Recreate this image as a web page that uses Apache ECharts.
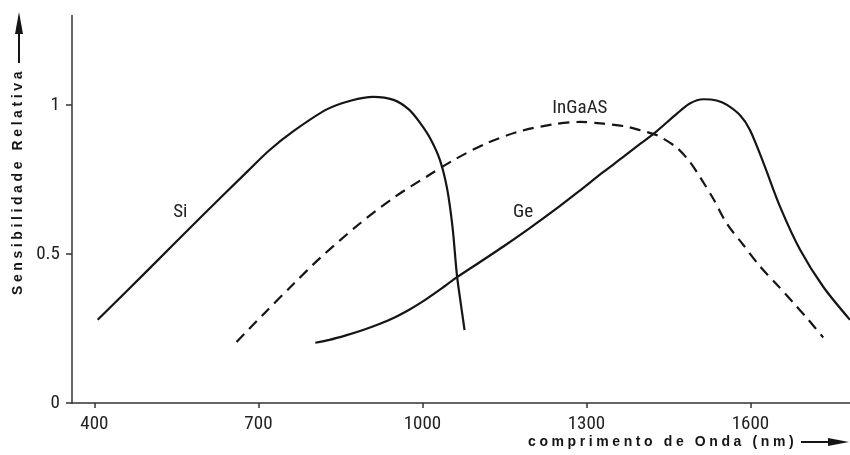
<!DOCTYPE html>
<html>
<head>
<meta charset="utf-8">
<script src="https://cdn.jsdelivr.net/npm/echarts@6/dist/echarts.min.js"></script>
<style>
html,body{margin:0;padding:0;background:#fff;}
#chart{width:850px;height:455px;}
</style>
</head>
<body>
<div id="chart"></div>
<script>
// ---- data (wavelength nm, relative sensitivity) ----
const siNm   = [406, 500, 600, 680, 720, 764, 825, 870, 910, 947, 975, 996, 1015, 1032, 1045, 1055, 1063, 1070, 1077];
const siVal  = [0.279, 0.45, 0.633, 0.777, 0.848, 0.912, 0.985, 1.015, 1.027, 1.017, 0.985, 0.939, 0.885, 0.815, 0.72, 0.59, 0.43, 0.335, 0.245];

const geNm   = [804, 830, 860, 890, 920, 950, 975, 1000, 1030, 1064, 1106, 1148, 1195, 1240, 1286, 1331, 1365, 1398, 1426, 1465, 1489, 1514, 1538, 1557, 1581, 1599, 1624, 1654, 1691, 1733, 1782];
const geVal  = [0.202, 0.212, 0.227, 0.244, 0.264, 0.288, 0.312, 0.34, 0.378, 0.423, 0.474, 0.525, 0.585, 0.645, 0.71, 0.775, 0.822, 0.869, 0.908, 0.970, 1.005, 1.019, 1.015, 1.0, 0.965, 0.916, 0.804, 0.659, 0.513, 0.39, 0.279];

const inNm   = [660, 712, 764, 813, 886, 950, 1008, 1060, 1118, 1179, 1240, 1288, 1331, 1371, 1398, 1429, 1465, 1489, 1508, 1532, 1557, 1587, 1618, 1649, 1679, 1706, 1733];
const inVal  = [0.205, 0.303, 0.399, 0.487, 0.603, 0.692, 0.760, 0.818, 0.872, 0.912, 0.935, 0.943, 0.937, 0.928, 0.915, 0.898, 0.857, 0.809, 0.757, 0.685, 0.601, 0.53, 0.457, 0.396, 0.335, 0.279, 0.220];

const xTicks = [400, 700, 1000, 1300, 1600];
const yTicks = [0, 0.5, 1];

const seriesNames = ['Si', 'Ge', 'InGaAS'];
const labelAnchors = [[557, 0.64], [1184, 0.64], [1288, 0.99]];

const xTitle = 'comprimento de Onda (nm)';
const yTitle = 'Sensibilidade Relativa';

// letter-spaced titles (canvas letterSpacing, only for the two axis titles)
const SPACED = new Set([xTitle, yTitle]);
const origFill = CanvasRenderingContext2D.prototype.fillText;
CanvasRenderingContext2D.prototype.fillText = function (t, x, y, m) {
  if (SPACED.has(t)) {
    this.save();
    this.letterSpacing = '3.6px';
    origFill.call(this, t, x, y);
    this.restore();
    const f = this.font; this.font = '10px serif'; this.font = f;
  } else {
    if (m === undefined) origFill.call(this, t, x, y); else origFill.call(this, t, x, y, m);
  }
};

const pairs = (xs, ys) => xs.map((x, i) => [x, ys[i]]);
const narrow = "'Liberation Sans Narrow', 'Arial Narrow', 'Roboto Condensed', 'DejaVu Sans Condensed', sans-serif";
const INK = '#151515';

function mkSeries(name, xs, ys, dashed, anchor) {
  return {
    name: name,
    type: 'line',
    data: pairs(xs, ys),
    smooth: 0.3,
    showSymbol: false,
    symbol: 'none',
    lineStyle: { color: INK, width: 2.2, type: dashed ? [11, 7] : 'solid' },
    markPoint: {
      symbol: 'circle', symbolSize: 1,
      itemStyle: { color: 'rgba(0,0,0,0)' },
      label: { show: true, position: 'inside', formatter: name, color: '#222', fontSize: 19, fontFamily: narrow },
      data: [{ coord: anchor }]
    }
  };
}

const chart = echarts.init(document.getElementById('chart'), null, { renderer: 'canvas' });
chart.setOption({
  animation: false,
  backgroundColor: '#fff',
  grid: { left: 72, right: 0, top: 15.5, bottom: 52, containLabel: false },
  xAxis: {
    type: 'value', min: 359, max: 1782,
    axisLine: { show: true, lineStyle: { color: '#333', width: 1.5 } },
    axisTick: { show: true, length: 5, customValues: xTicks, lineStyle: { color: '#333', width: 1.5 } },
    axisLabel: { customValues: xTicks, formatter: v => String(v), margin: 12, color: '#222', fontSize: 19, fontFamily: narrow },
    splitLine: { show: false }
  },
  yAxis: {
    type: 'value', min: 0, max: 1.3,
    axisLine: { show: true, lineStyle: { color: '#333', width: 1.5 } },
    axisTick: { show: true, length: 6, customValues: yTicks, lineStyle: { color: '#333', width: 1.5 } },
    axisLabel: { customValues: yTicks, formatter: v => String(v), margin: 12, color: '#222', fontSize: 19, fontFamily: narrow },
    splitLine: { show: false }
  },
  series: [
    mkSeries(seriesNames[0], siNm, siVal, false, labelAnchors[0]),
    mkSeries(seriesNames[1], geNm, geVal, false, labelAnchors[1]),
    mkSeries(seriesNames[2], inNm, inVal, true, labelAnchors[2])
  ],
  graphic: [
    { type: 'text', left: 528, top: 435, style: { text: xTitle, fill: INK, font: "bold 14px 'Liberation Sans', Arial, sans-serif" } },
    { type: 'line', shape: { x1: 801, y1: 442, x2: 832, y2: 442 }, style: { stroke: INK, lineWidth: 2 } },
    { type: 'polygon', shape: { points: [[828, 438], [849, 442], [828, 446]] }, style: { fill: INK } },
    { type: 'text', x: 18, y: 295, rotation: Math.PI / 2,
      style: { text: yTitle, fill: INK, align: 'left', verticalAlign: 'middle', font: "bold 14px 'Liberation Sans', Arial, sans-serif" } },
    { type: 'line', shape: { x1: 19, y1: 63, x2: 19, y2: 30 }, style: { stroke: INK, lineWidth: 2 } },
    { type: 'polygon', shape: { points: [[15, 34], [19, 12], [23, 34]] }, style: { fill: INK } }
  ]
});
</script>
</body>
</html>
